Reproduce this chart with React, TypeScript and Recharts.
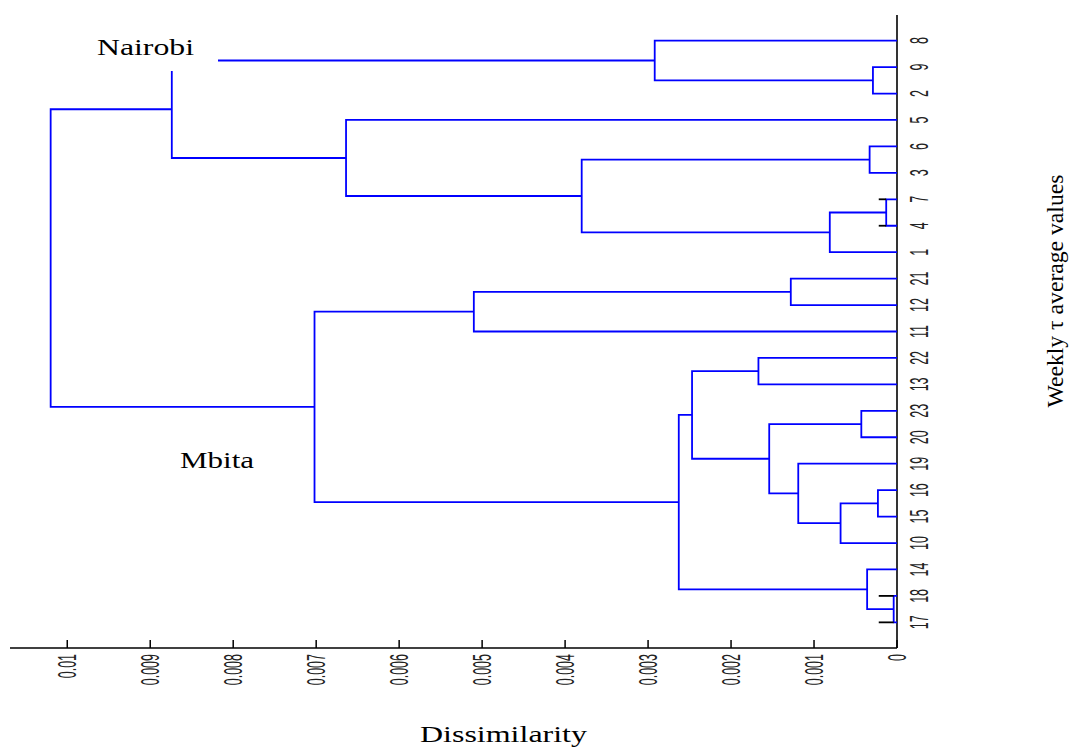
import React from "react";
import { ScatterChart, Scatter, XAxis, YAxis } from "recharts";

// leaf order, top to bottom
const LEAVES = ["8", "9", "2", "5", "6", "3", "7", "4", "1", "21", "12", "11", "22", "13", "23", "20", "19", "16", "15", "10", "14", "18", "17"];

// merges: [left child, right child, dissimilarity]; merged node i is called "c" + i
const LINKS: [string, string, number][] = [
  ["9", "2", 0.00029],
  ["8", "c0", 0.00292],
  ["6", "3", 0.00033],
  ["7", "4", 0.00013],
  ["c3", "1", 0.00081],
  ["c2", "c4", 0.0038],
  ["5", "c5", 0.00664],
  ["c1", "c6", 0.00874],
  ["21", "12", 0.00128],
  ["c8", "11", 0.0051],
  ["22", "13", 0.00167],
  ["23", "20", 0.00043],
  ["16", "15", 0.00023],
  ["c12", "10", 0.00068],
  ["19", "c13", 0.00119],
  ["c11", "c14", 0.00154],
  ["c10", "c15", 0.00247],
  ["18", "17", 0.00004],
  ["14", "c17", 0.00036],
  ["c16", "c18", 0.00263],
  ["c9", "c19", 0.00702],
  ["c7", "c20", 0.0102],
];

// short black marks next to some leaves: [leaf, from, to]
const STUBS: [string, number, number][] = [
  ["7", 0.00022, 0.00013],
  ["4", 0.00022, 0.00013],
  ["18", 0.00022, 0.00004],
  ["17", 0.00022, 0.00004],
];

const X_TICKS = [0, 0.001, 0.002, 0.003, 0.004, 0.005, 0.006, 0.007, 0.008, 0.009, 0.01];
const X_TICK_LABELS = ["0", "0.001", "0.002", "0.003", "0.004", "0.005", "0.006", "0.007", "0.008", "0.009", "0.01"];

const W = 1075;
const H = 747;
const AXIS_Y = 648;
const BLUE = "#0000ff";
const SANS = "'Liberation Sans', Arial, sans-serif";
const SERIF = "'Liberation Serif', 'Times New Roman', serif";

type Pt = { x: number; y: number };

function buildPaths() {
  const pos: Record<string, Pt> = {};
  LEAVES.forEach((l, i) => (pos[l] = { x: 0, y: i }));
  return LINKS.map(([a, b, h], i) => {
    const pa = pos[a];
    const pb = pos[b];
    pos["c" + i] = { x: h, y: (pa.y + pb.y) / 2 };
    return [
      { x: pa.x, y: pa.y },
      { x: h, y: pa.y },
      { x: h, y: pb.y },
      { x: pb.x, y: pb.y },
    ];
  });
}

const paths = buildPaths();
const stubs = STUBS.map(([leaf, from, to]) => {
  const y = LEAVES.indexOf(leaf);
  return [
    { x: from, y },
    { x: to, y },
  ];
});

const noShape = () => <g />;

const XTick = (props: any) => {
  const { x, payload } = props;
  const i = X_TICKS.findIndex((t) => Math.abs(t - payload.value) < 1e-9);
  const label = i >= 0 ? X_TICK_LABELS[i] : String(payload.value);
  return (
    <g>
      <line x1={x} x2={x} y1={AXIS_Y} y2={AXIS_Y - 8} stroke="#000" strokeWidth={1.5} />
      <text
        transform={`translate(${x + 9},${AXIS_Y + 6}) rotate(-90) scale(0.48,1)`}
        textAnchor="end"
        fontSize={26}
        fontFamily={SANS}
        fill="#222"
      >
        {label}
      </text>
    </g>
  );
};

const YTick = (props: any) => {
  const { y, payload } = props;
  const label = LEAVES[Math.round(payload.value)] ?? "";
  return (
    <text
      transform={`translate(928,${y}) rotate(-90) scale(0.48,1)`}
      textAnchor="middle"
      fontSize={26}
      fontFamily={SANS}
      fill="#222"
    >
      {label}
    </text>
  );
};

export default function App() {
  return (
    <div style={{ position: "absolute", left: 0, top: 0, width: W, height: H, background: "#fff" }}>
      <ScatterChart width={W} height={H} margin={{ top: 15, right: 118, bottom: 39, left: 10 }}>
        <XAxis
          dataKey="x"
          type="number"
          domain={[0, 0.01069]}
          allowDataOverflow
          reversed
          ticks={X_TICKS}
          interval={0}
          height={60}
          tickLine={false}
          tickSize={0}
          tickMargin={0}
          axisLine={{ stroke: "#000", strokeWidth: 1.6 }}
          tick={XTick}
        />
        <YAxis
          dataKey="y"
          type="number"
          orientation="right"
          domain={[-0.97, 22.97]}
          allowDataOverflow
          reversed
          ticks={LEAVES.map((_, i) => i)}
          interval={0}
          width={60}
          tickLine={false}
          tickSize={0}
          tickMargin={0}
          axisLine={{ stroke: "#000", strokeWidth: 1.6 }}
          tick={YTick}
        />
        {paths.map((p, i) => (
          <Scatter
            key={"l" + i}
            data={p}
            line={{ stroke: BLUE, strokeWidth: 1.8 }}
            lineType="joint"
            shape={noShape}
            isAnimationActive={false}
          />
        ))}
        {stubs.map((p, i) => (
          <Scatter
            key={"s" + i}
            data={p}
            line={{ stroke: "#000", strokeWidth: 1.8 }}
            lineType="joint"
            shape={noShape}
            isAnimationActive={false}
          />
        ))}
      </ScatterChart>
      <svg
        width={W}
        height={H}
        style={{ position: "absolute", left: 0, top: 0, pointerEvents: "none" }}
      >
        <rect x={88} y={26} width={130} height={45} fill="#fff" />
        <text x={97} y={55} fontSize={24} fontFamily={SERIF} fill="#000" textLength={97} lengthAdjust="spacingAndGlyphs">
          Nairobi
        </text>
        <text x={180} y={468} fontSize={24} fontFamily={SERIF} fill="#000" textLength={74} lengthAdjust="spacingAndGlyphs">
          Mbita
        </text>
        <text x={420} y={742} fontSize={24} fontFamily={SERIF} fill="#000" textLength={167} lengthAdjust="spacingAndGlyphs">
          Dissimilarity
        </text>
        <text
          transform="translate(1063,291) rotate(-90)"
          textAnchor="middle"
          fontSize={24}
          fontFamily={SERIF}
          fill="#000"
          textLength={233}
          lengthAdjust="spacingAndGlyphs"
        >
          Weekly τ average values
        </text>
      </svg>
    </div>
  );
}
